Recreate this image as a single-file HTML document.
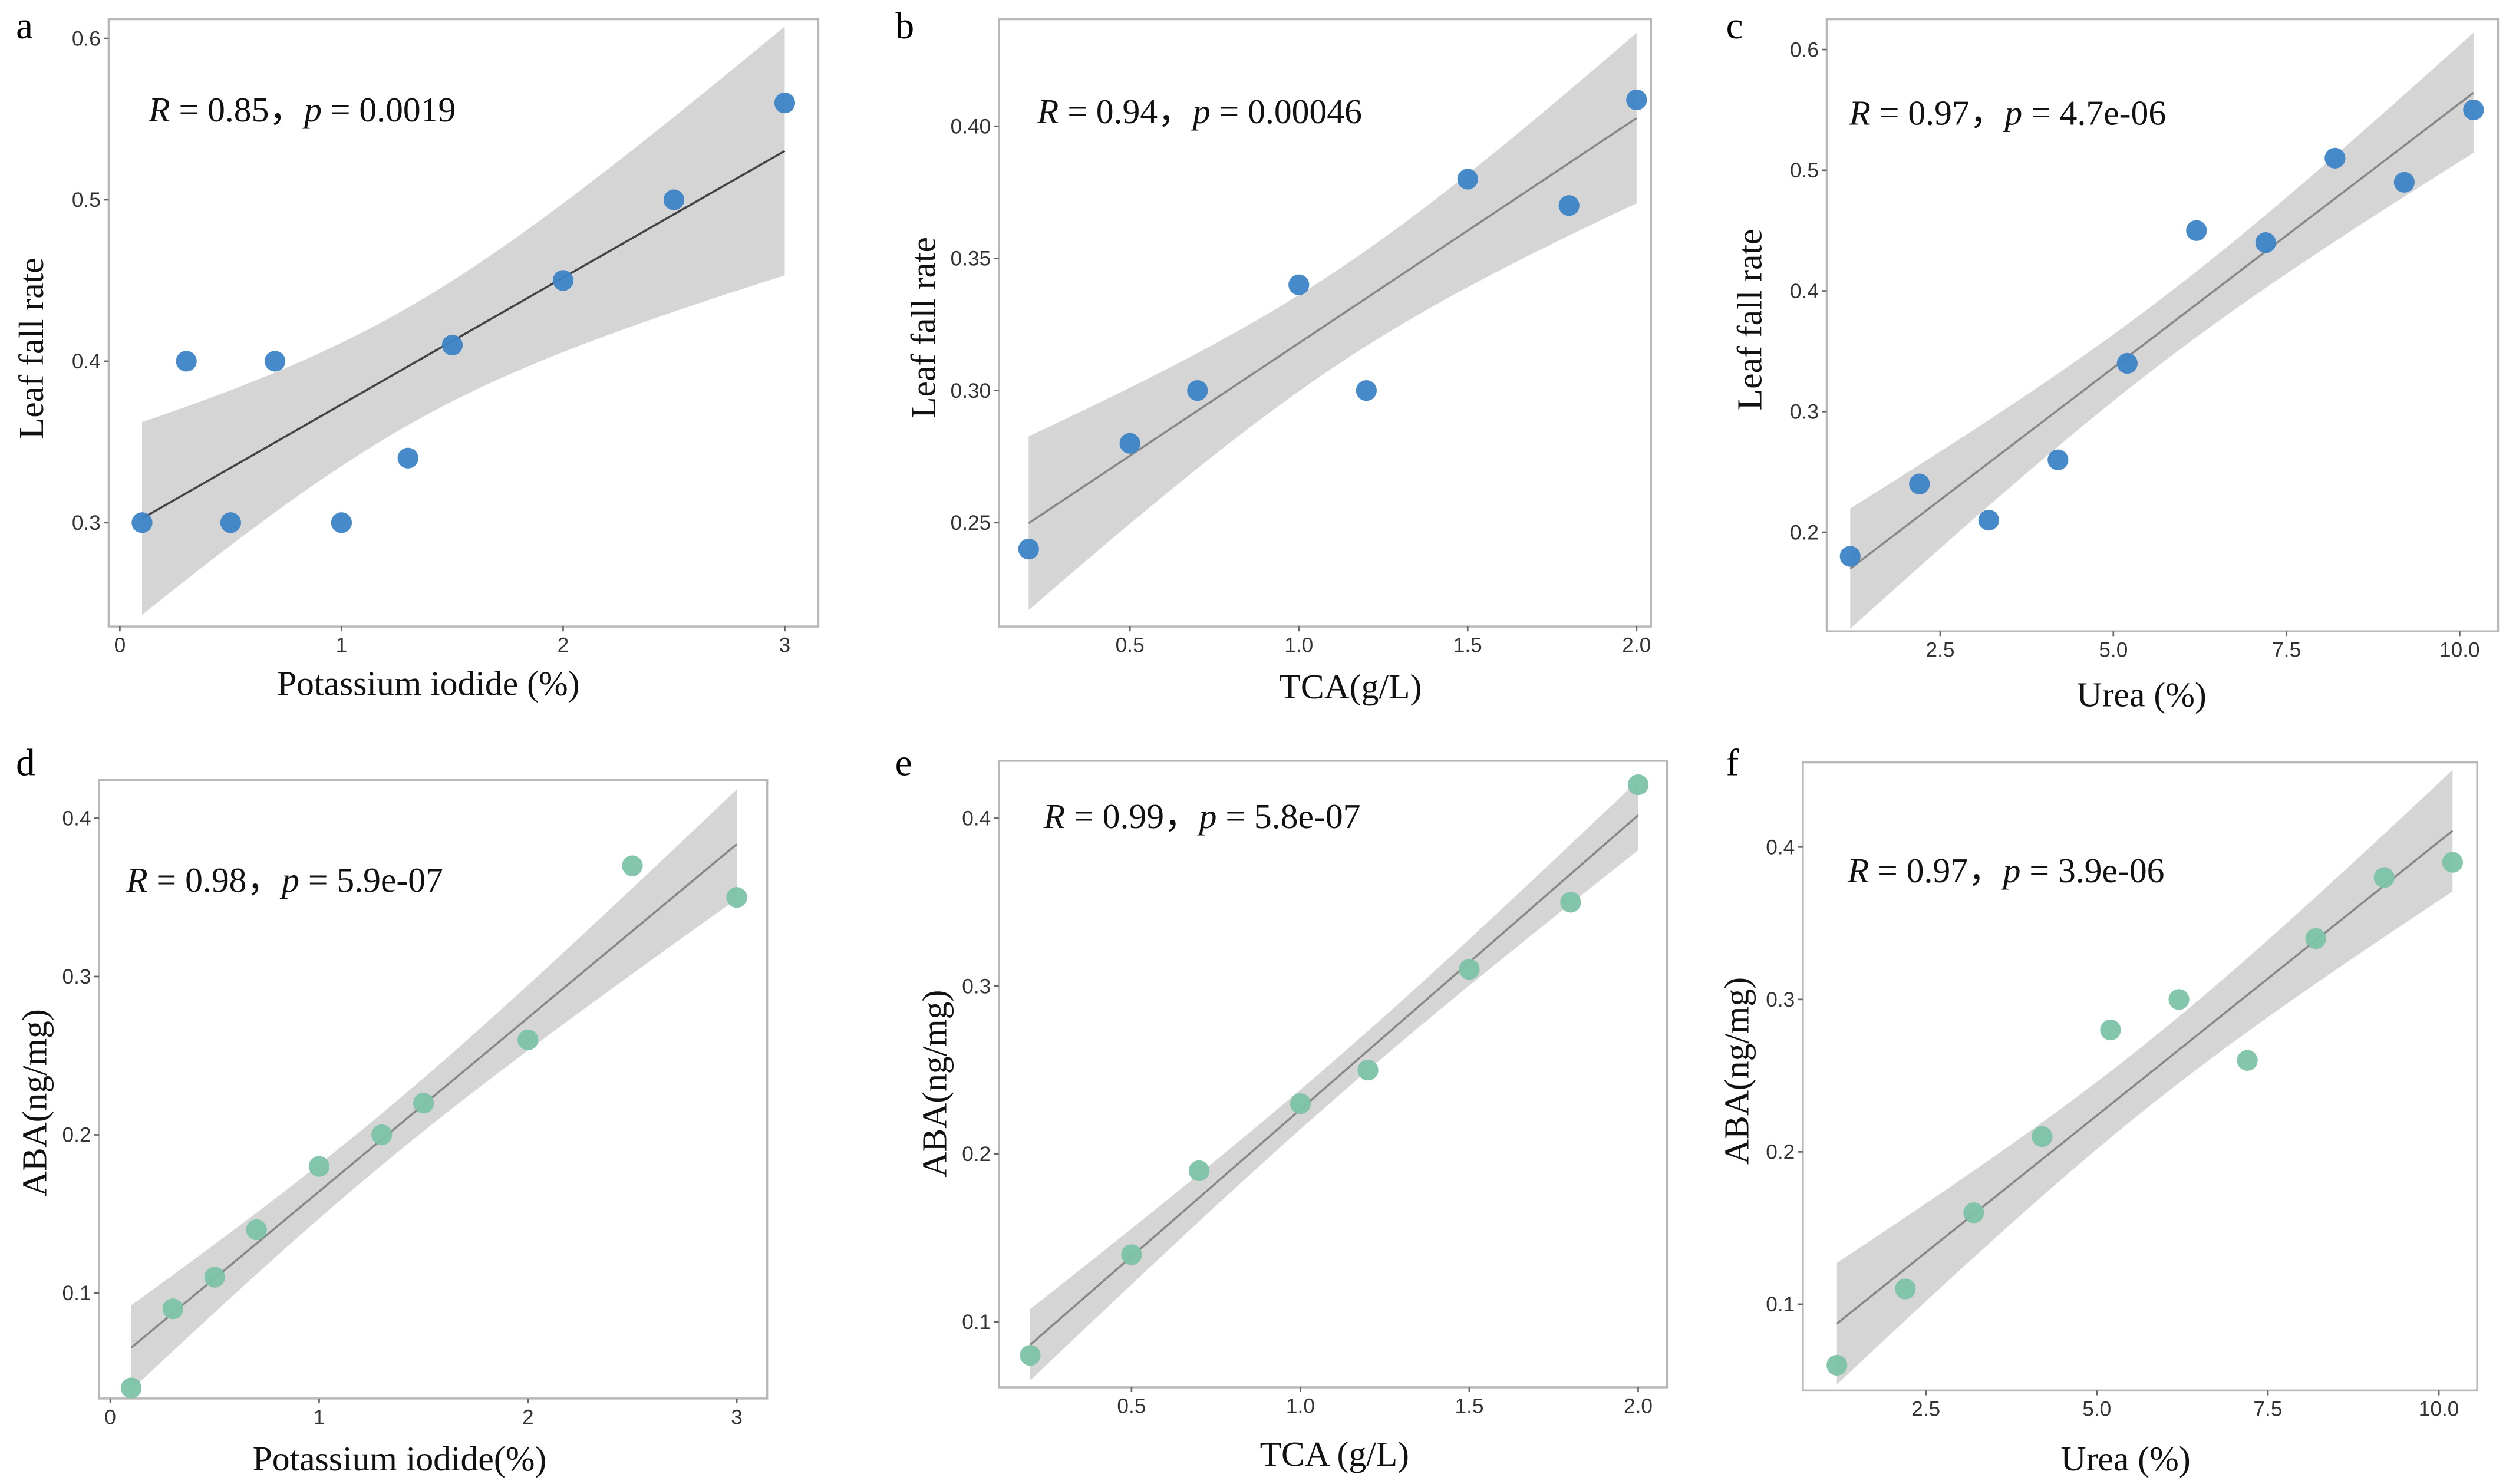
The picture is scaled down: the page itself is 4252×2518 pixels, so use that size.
<!DOCTYPE html>
<html><head><meta charset="utf-8"><style>
html,body{margin:0;padding:0;background:#fff;}
svg{display:block;}
.tk{font-family:"Liberation Sans",sans-serif;font-size:13px;fill:#333;}
.ti{font-family:"Liberation Serif",serif;font-size:22px;fill:#111;}
.st{font-family:"Liberation Serif",serif;font-size:22px;fill:#111;}
.lt{font-family:"Liberation Serif",serif;font-size:24px;fill:#000;}
</style></head><body>
<svg id="fig" width="4252" height="2518" viewBox="0 0 1568 928.5" preserveAspectRatio="none" xmlns="http://www.w3.org/2000/svg"></svg>
<script>
// Panel data
const aX=[0.1,0.3,0.5,0.7,1.0,1.3,1.5,2.0,2.5,3.0];
const aY=[0.30,0.40,0.30,0.40,0.30,0.34,0.41,0.45,0.50,0.56];
const bX=[0.2,0.5,0.7,1.0,1.2,1.5,1.8,2.0];
const bY=[0.24,0.28,0.30,0.34,0.30,0.38,0.37,0.41];
const cX=[1.2,2.2,3.2,4.2,5.2,6.2,7.2,8.2,9.2,10.2];
const cY=[0.18,0.24,0.21,0.26,0.34,0.45,0.44,0.51,0.49,0.55];
const dX=[0.1,0.3,0.5,0.7,1.0,1.3,1.5,2.0,2.5,3.0];
const dY=[0.04,0.09,0.11,0.14,0.18,0.20,0.22,0.26,0.37,0.35];
const eX=[0.2,0.5,0.7,1.0,1.2,1.5,1.8,2.0];
const eY=[0.08,0.14,0.19,0.23,0.25,0.31,0.35,0.42];
const fX=[1.2,2.2,3.2,4.2,5.2,6.2,7.2,8.2,9.2,10.2];
const fY=[0.06,0.11,0.16,0.21,0.28,0.30,0.26,0.34,0.38,0.39];
const aXT=[0,1,2,3], aYT=[0.3,0.4,0.5,0.6];
const bXT=[0.5,1.0,1.5,2.0], bYT=[0.25,0.30,0.35,0.40];
const cXT=[2.5,5.0,7.5,10.0], cYT=[0.2,0.3,0.4,0.5,0.6];
const dXT=[0,1,2,3], dYT=[0.1,0.2,0.3,0.4];
const eXT=[0.5,1.0,1.5,2.0], eYT=[0.1,0.2,0.3,0.4];
const fXT=[2.5,5.0,7.5,10.0], fYT=[0.1,0.2,0.3,0.4];
const stats=["0.85","0.0019","0.94","0.00046","0.97","4.7e-06","0.98","5.9e-07","0.99","5.8e-07","0.97","3.9e-06"];

const NS="http://www.w3.org/2000/svg";
const svg=document.getElementById('fig');
function mk(t,at,p){const e=document.createElementNS(NS,t);for(const k in at)e.setAttribute(k,at[k]);(p||svg).appendChild(e);return e;}

const panels=[
 {id:'a',X:aX,Y:aY,xt:aXT,yt:aYT,xd:0,yd:1,fr:[68,12,512,392],xm:[0,75,3,491],ym:[0.3,327,0.6,24],col:'#3d84c6',lc:'#444',lx:10,ly:24,yl:'Leaf fall rate',ytx:20,yty:218,xl:'Potassium iodide (%)',xtx:268,xty:435,sx:93,sy:76,si:0},
 {id:'b',X:bX,Y:bY,xt:bXT,yt:bYT,xd:1,yd:2,fr:[625,12,1033,392],xm:[0.5,707,2.0,1024],ym:[0.25,327,0.40,79],col:'#3d84c6',lc:'#888',lx:560,ly:24,yl:'Leaf fall rate',ytx:578,yty:205,xl:'TCA(g/L)',xtx:845,xty:437,sx:649,sy:77,si:2},
 {id:'c',X:cX,Y:cY,xt:cXT,yt:cYT,xd:1,yd:1,fr:[1143,12,1563,395],xm:[2.5,1214,10.0,1539],ym:[0.2,333,0.6,31],col:'#3d84c6',lc:'#888',lx:1080,ly:24,yl:'Leaf fall rate',ytx:1095,yty:200,xl:'Urea (%)',xtx:1340,xty:442,sx:1157,sy:78,si:4},
 {id:'d',X:dX,Y:dY,xt:dXT,yt:dYT,xd:0,yd:1,fr:[62,488,480,875],xm:[0,69,3,461],ym:[0.1,809,0.4,512],col:'#7cc3a6',lc:'#888',lx:10,ly:485,yl:'ABA(ng/mg)',ytx:22,yty:690,xl:'Potassium iodide(%)',xtx:250,xty:920,sx:79,sy:558,si:6},
 {id:'e',X:eX,Y:eY,xt:eXT,yt:eYT,xd:1,yd:1,fr:[625,476,1043,868],xm:[0.5,708,2.0,1025],ym:[0.1,827,0.4,512],col:'#7cc3a6',lc:'#888',lx:560,ly:485,yl:'ABA(ng/mg)',ytx:585,yty:678,xl:'TCA (g/L)',xtx:835,xty:917,sx:653,sy:518,si:8},
 {id:'f',X:fX,Y:fY,xt:fXT,yt:fYT,xd:1,yd:1,fr:[1128,477,1550,870],xm:[2.5,1205,10.0,1526],ym:[0.1,816,0.4,530],col:'#7cc3a6',lc:'#888',lx:1080,ly:485,yl:'ABA(ng/mg)',ytx:1087,yty:670,xl:'Urea (%)',xtx:1330,xty:920,sx:1156,sy:552,si:10}
];
const tq={8:2.306,6:2.447};
panels.forEach(P=>{
 const g=mk('g',{});
 
 
 const sxf=v=>P.xm[1]+(v-P.xm[0])*(P.xm[3]-P.xm[1])/(P.xm[2]-P.xm[0]);
 const syf=v=>P.ym[1]+(v-P.ym[0])*(P.ym[3]-P.ym[1])/(P.ym[2]-P.ym[0]);
 const [x0,y0,x1,y1]=P.fr;
 const n=P.X.length;const mx=P.X.reduce((s,v)=>s+v,0)/n;const my=P.Y.reduce((s,v)=>s+v,0)/n;
 let sxx=0,sxy=0;for(let i=0;i<n;i++){sxx+=(P.X[i]-mx)**2;sxy+=(P.X[i]-mx)*(P.Y[i]-my);}
 const b=sxy/sxx,a0=my-b*mx;let sse=0;for(let i=0;i<n;i++)sse+=(P.Y[i]-a0-b*P.X[i])**2;
 const s=Math.sqrt(sse/(n-2));const t=tq[n-2]||2.3;
 const xa=Math.min(...P.X),xb=Math.max(...P.X);
 let up=[],lo=[];
 for(let k=0;k<=40;k++){const x=xa+(xb-xa)*k/40;const yh=a0+b*x;const h=t*s*Math.sqrt(1/n+(x-mx)**2/sxx);
  up.push(sxf(x).toFixed(2)+','+syf(yh+h).toFixed(2));lo.unshift(sxf(x).toFixed(2)+','+syf(yh-h).toFixed(2));}
 const band=mk('polygon',{points:up.concat(lo).join(' '),fill:'#d5d5d5'},g);
 
 
 const fr=mk('rect',{x:x0,y:y0,width:x1-x0,height:y1-y0,fill:'none',stroke:'#b8b8b8','stroke-width':1.3},g);
 
 
 const ln=mk('line',{x1:sxf(xa),y1:syf(a0+b*xa),x2:sxf(xb),y2:syf(a0+b*xb),stroke:P.lc,'stroke-width':1.3},g);
 
 
 P.X.forEach((x,i)=>{const c=mk('circle',{cx:sxf(x),cy:syf(P.Y[i]),r:6.5,fill:P.col,'fill-opacity':0.95},g);
  
  });
 P.xt.forEach(v=>{const X=sxf(v);mk('line',{x1:X,y1:y1,x2:X,y2:y1+3,stroke:'#666'},g);
  const tx=mk('text',{x:X,y:y1+16,'text-anchor':'middle',class:'tk'},g);tx.textContent=v.toFixed(P.xd);
  
  });
 P.yt.forEach(v=>{const Y=syf(v);mk('line',{x1:x0-3,y1:Y,x2:x0,y2:Y,stroke:'#666'},g);
  const tx=mk('text',{x:x0-5,y:Y+4.5,'text-anchor':'end',class:'tk'},g);tx.textContent=v.toFixed(P.yd);
  
  });
 const st=mk('text',{x:P.sx,y:P.sy,class:'st'},g);
 st.innerHTML='<tspan font-style="italic">R</tspan> = '+stats[P.si]+'，<tspan font-style="italic">p</tspan> = '+stats[P.si+1];
 
 
 const lt=mk('text',{x:P.lx,y:P.ly,class:'lt'},g);lt.textContent=P.id;
 
 
 const xl=mk('text',{x:P.xtx,y:P.xty,'text-anchor':'middle',class:'ti'},g);xl.textContent=P.xl;
 
 
 const yl=mk('text',{x:0,y:0,'text-anchor':'middle',class:'ti',transform:'translate('+(P.ytx+7)+','+P.yty+') rotate(-90)'},g);yl.textContent=P.yl;
 
 
});
</script>
</body></html>
